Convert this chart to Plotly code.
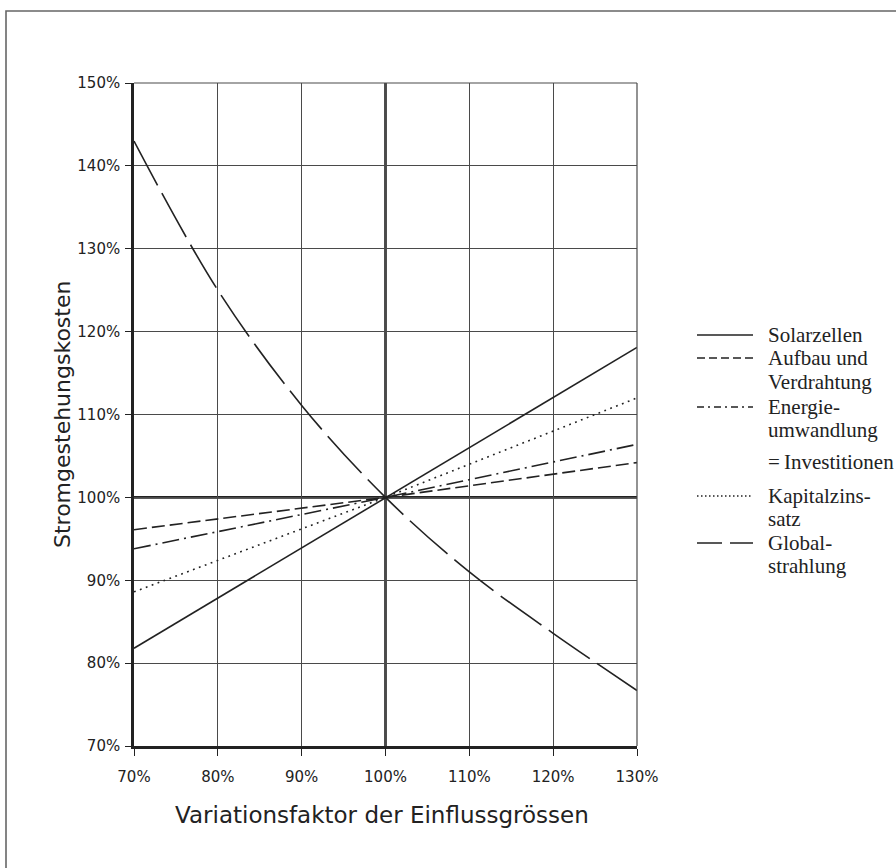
import plotly.graph_objects as go

# ---- data ----
x_lin = [70, 100, 130]
solarzellen = [81.8, 100, 118.1]
aufbau = [96.1, 100, 104.2]
energie = [93.8, 100, 106.4]
kapital = [88.6, 100, 112.0]
x_glob = [70, 80, 90, 100, 110, 120, 130]
global_str = [143.0, 125.0, 111.1, 100, 91.0, 83.6, 76.7]

x_ticks = [70, 80, 90, 100, 110, 120, 130]
x_ticklabels = ["70%", "80%", "90%", "100%", "110%", "120%", "130%"]
y_ticks = [70, 80, 90, 100, 110, 120, 130, 140, 150]
y_ticklabels = ["70%", "80%", "90%", "100%", "110%", "120%", "130%", "140%", "150%"]

legend_rows = [
    ("Solarzellen", "solid"),
    ("Aufbau und", "8px,4px"),
    ("Verdrahtung", None),
    ("Energie-", "7px,4px,2px,4px"),
    ("umwandlung", None),
    ("=\u2009Investitionen", None),
    ("Kapitalzins-", "1.5px,2.5px"),
    ("satz", None),
    ("Global-", "25px,8px"),
    ("strahlung", None),
]
legend_y_px = [335, 358, 382, 407, 430, 462, 496, 519, 543, 566]

# ---- layout geometry (reference pixel positions) ----
W, H = 896, 868
L, R, T, B = 134, 637, 83, 746
PW, PH = R - L, B - T

def px(xp):
    return (xp - L) / PW

def py(yp):
    return (B - yp) / PH

INK = "#222222"
GRID = "#4a4a4a"
SANS = "DejaVu Sans"

fig = go.Figure()

series = [
    (x_lin, solarzellen, "solid", "linear"),
    (x_lin, aufbau, "13px,5px", "linear"),
    (x_lin, energie, "17px,5px,2px,5px", "linear"),
    (x_lin, kapital, "1.8px,4.5px", "linear"),
    (x_glob, global_str, "50px,9px", "spline"),
]
for xs, ys, dash, shape in series:
    fig.add_trace(go.Scatter(
        x=xs, y=ys, mode="lines",
        line=dict(color=INK, width=1.6, dash=dash, shape=shape),
        showlegend=False, hoverinfo="skip",
    ))

shapes = []
# heavy reference lines at 100 %
shapes.append(dict(type="line", xref="x", yref="paper", x0=100, x1=100, y0=0, y1=1,
                   line=dict(color=INK, width=2.6), layer="below"))
shapes.append(dict(type="line", xref="paper", yref="y", x0=0, x1=1, y0=100, y1=100,
                   line=dict(color=INK, width=2.6), layer="below"))
# thin top/right border of plot area
shapes.append(dict(type="line", xref="paper", yref="paper", x0=0, x1=1, y0=1, y1=1,
                   line=dict(color=GRID, width=1.2)))
shapes.append(dict(type="line", xref="paper", yref="paper", x0=1, x1=1, y0=0, y1=1,
                   line=dict(color=GRID, width=1.2)))
# outer frame of the figure
shapes.append(dict(type="rect", xref="paper", yref="paper",
                   x0=px(6), x1=px(960), y0=py(940), y1=py(11),
                   line=dict(color="#666666", width=1.6)))

annotations = []
for (label, dash), ypx in zip(legend_rows, legend_y_px):
    if dash is not None:
        shapes.append(dict(type="line", xref="paper", yref="paper",
                           x0=px(697), x1=px(753), y0=py(ypx), y1=py(ypx),
                           line=dict(color=INK, width=1.4, dash=dash)))
    annotations.append(dict(
        text=label, xref="paper", yref="paper", x=px(766), y=py(ypx),
        xanchor="left", yanchor="middle", showarrow=False,
        font=dict(family="Liberation Serif", size=21, color=INK),
    ))

annotations.append(dict(
    text="Variationsfaktor der Einflussgrössen", xref="paper", yref="paper",
    x=px(382), y=py(815), xanchor="center", yanchor="middle", showarrow=False,
    font=dict(family=SANS, size=23, color=INK),
))
annotations.append(dict(
    text="Stromgestehungskosten", xref="paper", yref="paper",
    x=px(62), y=py(415), xanchor="center", yanchor="middle", showarrow=False,
    textangle=-90, font=dict(family=SANS, size=22, color=INK),
))

fig.update_layout(
    width=W, height=H,
    margin=dict(l=L, r=W - R, t=T, b=H - B, pad=0),
    paper_bgcolor="white", plot_bgcolor="white",
    shapes=shapes, annotations=annotations,
    xaxis=dict(range=[70, 130], tickvals=x_ticks, ticktext=x_ticklabels,
               showgrid=True, gridcolor=GRID, gridwidth=1.1,
               showline=True, linecolor=INK, linewidth=2.6,
               ticks="outside", ticklen=7, tickcolor=INK, tickwidth=1.2,
               ticklabelstandoff=8,
               tickfont=dict(family=SANS, size=15, color=INK),
               zeroline=False, fixedrange=True),
    yaxis=dict(range=[70, 150], tickvals=y_ticks, ticktext=y_ticklabels,
               showgrid=True, gridcolor=GRID, gridwidth=1.1,
               showline=True, linecolor=INK, linewidth=2.6,
               ticks="outside", ticklen=6, tickcolor=INK, tickwidth=1.2,
               ticklabelstandoff=2,
               tickfont=dict(family=SANS, size=15, color=INK),
               zeroline=False, fixedrange=True),
)

fig.write_html(
    "out.html",
    config={"displayModeBar": False},
    post_script="document.body.style.margin='0';document.body.style.overflow='hidden';",
)
